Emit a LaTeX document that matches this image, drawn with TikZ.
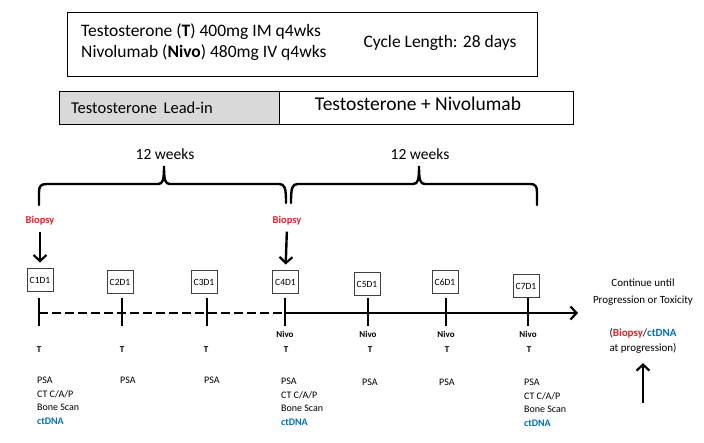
\documentclass[tikz,border=0pt]{standalone}
\usepackage{fontspec}
\setmainfont{Carlito}
\usetikzlibrary{arrows.meta}
\definecolor{bred}{HTML}{E8202A}
\definecolor{dblue}{HTML}{0070C0}
\begin{document}
\begin{tikzpicture}[x=1pt,y=-1pt,
  cbox/.style={draw=black!75,line width=1pt,minimum width=26pt,minimum height=23pt,inner sep=0pt,font=\fontsize{9.5}{11}\selectfont},
  tick/.style={line width=2.4pt},
  brace/.style={line width=2.4pt,line cap=round},
  tl/.style={font=\fontsize{9}{11}\selectfont\bfseries,inner sep=0pt},
  lst/.style={anchor=north west,align=left,inner sep=0pt,font=\fontsize{10}{13.5}\selectfont},
  bio/.style={text=bred,font=\fontsize{10.5}{12}\selectfont\bfseries,inner sep=1pt},
  barb/.style={-{Straight Barb[length=6pt,width=13pt,line width=2.2pt]},line width=2.4pt},
]
\useasboundingbox (0,0) rectangle (704,443);
% top box
\node[draw,line width=1pt,minimum width=470pt,minimum height=64pt,inner sep=0pt] (top) at (302,45) {};
\node[anchor=west,align=left,inner sep=0pt,font=\fontsize{17.5}{21}\selectfont] (drugs) at (81,42.5)
  {Testosterone (\textbf{T}) 400mg IM q4wks\\Nivolumab (\textbf{Nivo}) 480mg IV q4wks};
\node[inner sep=0pt,font=\fontsize{17.5}{21}\selectfont] (cycle) at (440,43) {Cycle Length: 28 days};
% phase bar
\node[draw,line width=1pt,fill=black!15,minimum width=220pt,minimum height=33pt,inner sep=0pt] (leadbox) at (169,108.5) {};
\node[inner sep=0pt,font=\fontsize{16.5}{18}\selectfont] (leadtxt) at (142,108) {Testosterone\, Lead-in};
\node[draw,line width=1pt,minimum width=294pt,minimum height=33pt,inner sep=0pt] (combobox) at (426,108.5) {};
\node[inner sep=0pt,font=\fontsize{19.5}{21}\selectfont] (combotxt) at (418,104) {Testosterone + Nivolumab};
% weeks
\node[inner sep=0pt,font=\fontsize{15.5}{17}\selectfont] (w1) at (165,154) {12 weeks};
\node[inner sep=0pt,font=\fontsize{15.5}{17}\selectfont] (w2) at (420,154) {12 weeks};
% braces
\draw[brace] (39,205) -- (39,192) .. controls (39,186) and (41,184) .. (47,184) -- (158,184)
  .. controls (163,184) and (164,180) .. (164,166) .. controls (164,180) and (165,184) .. (170,184)
  -- (279,184) .. controls (285,184) and (286,188) .. (286,203);
\draw[brace] (291,203) .. controls (291,188) and (292,184) .. (298,184) -- (413,184)
  .. controls (418,184) and (419,180) .. (419,166) .. controls (419,180) and (420,184) .. (425,184)
  -- (530,184) .. controls (535,184) and (537,186) .. (537,192) -- (537,205);
% cycle boxes
\node[cbox] (c1) at (40,280.5) {C1D1};
\node[cbox] (c2) at (120,282.5) {C2D1};
\node[cbox] (c3) at (204,282) {C3D1};
\node[cbox] (c4) at (285.5,282.5) {C4D1};
\node[cbox] (c5) at (367,284.5) {C5D1};
\node[cbox] (c6) at (445,282.5) {C6D1};
\node[cbox] (c7) at (526,286) {C7D1};
% biopsy
\node[bio] (b1) at (40,221) {Biopsy};
\node[bio] (b4) at (287,221) {Biopsy};
\draw[barb,shorten >=6pt,shorten <=5pt] (b1.south) -- (c1.north);
\draw[barb,shorten >=6pt,shorten <=5pt] (b4.south) -- (c4.north);
% timeline
\foreach \i/\x in {1/39,2/122,3/207,4/285,5/368,6/446,7/528}{
  \coordinate (t\i) at (\x,313);
  \draw[tick] (\x,298) -- (\x,326);
}
\coordinate (tend) at (578,313);
\draw[line width=2.6pt,dash pattern=on 9pt off 4pt] (t1) -- (t4);
\draw[line width=2.6pt,-{Straight Barb[length=6pt,width=13pt,line width=2.2pt]}] (t4) -- (tend);
% Nivo labels
\foreach \i/\x in {4/285,5/368,6/446,7/528}{
  \node[tl] (n\i) at (\x,334.5) {Nivo};
}
\foreach \i/\x in {1/39,2/122,3/206,4/286,5/370,6/447,7/529}{
  \node[tl] (tt\i) at (\x,350) {T};
}
% assessments
\node[lst] (l1) at (37,377) {PSA\\CT C/A/P\\Bone Scan\\\textcolor{dblue}{\bfseries ctDNA}};
\node[lst] (l2) at (120,377) {PSA};
\node[lst] (l3) at (204,377) {PSA};
\node[lst] (l4) at (281,378) {PSA\\CT C/A/P\\Bone Scan\\\textcolor{dblue}{\bfseries ctDNA}};
\node[lst] (l5) at (362,379) {PSA};
\node[lst] (l6) at (439,379) {PSA};
\node[lst] (l7) at (524,379) {PSA\\CT C/A/P\\Bone Scan\\\textcolor{dblue}{\bfseries ctDNA}};
% right side
\node[align=center,inner sep=0pt,font=\fontsize{11}{17}\selectfont] (cont) at (643,292) {Continue until\\Progression or Toxicity};
\node[align=center,inner sep=1pt,font=\fontsize{11}{15}\selectfont] (prog) at (643,340.5)
  {(\textcolor{bred}{\bfseries Biopsy}/\textcolor{dblue}{\bfseries ctDNA}\\at progression)};
\coordinate (up) at (643,403);
\draw[barb,shorten >=9pt] (up) -- (prog.south);
\end{tikzpicture}
\end{document}
